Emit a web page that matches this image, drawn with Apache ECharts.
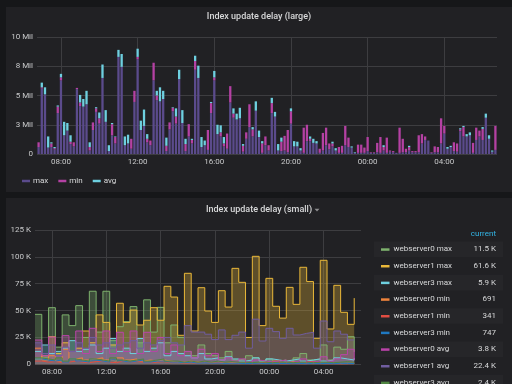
<!DOCTYPE html>
<html><head><meta charset="utf-8">
<script src="https://cdn.jsdelivr.net/npm/echarts@6/dist/echarts.min.js"></script>
<style>html,body{margin:0;padding:0;background:#161719;}#c{width:512px;height:384px;}</style>
</head><body><div id="c"></div>
<script>
// ---------- Top panel: Index update delay (large), values in Mil, 10-min bars from 06:50 ----------
const largeStartMin = 410, largeStepMin = 10;
const largeMax = [0.6,5.6,5.1,0.55,0.6,0.4,3.5,6.3,1.6,2.0,0.85,0.65,5.55,4.1,4.05,4.25,0.3,2.05,3.6,2.6,6.5,2.75,0.25,1.6,0.9,8.3,7.45,0.75,0.9,0.45,4.45,8.1,2.05,2.4,1.0,0.75,6.3,
4.6,4.5,4.7,0.25,2.1,3.65,2.6,6.4,2.65,0.25,1.5,0.9,7.2,6.5,0.6,0.75,0.35,3.5,6.3,1.7,1.5,0.65,0.45,4.4,3.1,2.95,3.05,0.2,1.3,2.3,1.5,3.7,1.45,0.1,0.75,0.3,
3.5,3.2,0.3,0.25,0.3,0.15,2.6,0.65,0.65,0.3,0.1,1.1,1.1,0.95,0.9,0.1,0.3,0.75,0.4,0.65,0.3,0.1,0.1,0.75,0.6,0.55,0.1,0.1,0.1,0.1,0.25,0.1,0.1,0.15,0.1,0.3,
0.1,0.2,0.15,0.1,0.1,0.15,0.15,0.3,0.15,0.15,0.15,0.9,1.2,1.15,0.1,0.15,0.15,0.9,1.75,0.45,0.6,0.25,0.2,1.95,1.5,1.5,1.6,0.1,1.2,1.5,1.2,3.1,1.3,0.2,0.35];
const largeMin = [0.4,0.1,0,0,0.3,0.1,0.55,0.25,0,0,0.2,0.35,0.1,0.3,0,0,0.3,0.65,0.3,0.45,0,0,0,0.95,0.55,0,0,0,0,0.85,0.95,0.2,0,0,0.3,0.4,1.5,
0.4,0,0,0.45,0.6,0.3,0.6,0,0,0.6,1.05,0.3,0.75,0,0,0,1.7,0.85,0.25,0,0.35,0.25,1.3,1.4,0.35,0,0,0.5,0.55,1.95,0.6,0,0,0.8,0.75,0.45,
0.85,0,0,0.8,1.25,1.9,1.05,0,0,0,2.15,1.4,0.2,0,0,0.35,1.5,1.5,0.5,0.25,0,0.5,0.6,1.65,0.8,0,0,0.7,0.7,0.45,1.2,0.05,0.05,0.8,1.35,0.3,
1.3,0.1,0.1,0,2.15,1.15,0.3,0.3,0.1,0.1,1.45,0.8,0.3,0,0.05,0.5,0.45,2.15,0.65,0,0,0.75,0.7,0.15,0.8,0,0,0.85,1.05,0.5,0.95,0,0,0,2.05];
const largeAvg = [0,0.4,0.6,0.95,0.1,0.1,0.1,0.3,1.15,0.65,0.55,0,0,0.65,0.65,1.15,0.4,0,0.1,0.5,1.15,1.0,0.5,0.1,0.05,0.6,1.1,0.75,0.75,0,0,0.7,0.8,1.4,0.4,0,0,
0.4,1.2,0.7,0.7,0,0.05,0.7,0.8,1.1,0.45,0,0.1,0.45,1.05,0.85,0.4,0,0.1,0.55,0.8,0.6,0.55,0,0,0.45,0.5,0.9,0.15,0,0,0.2,0.8,0.55,0.2,0,0,
0.45,0.4,0.55,0.35,0,0,0.25,0.45,0.4,0.2,0,0,0.2,0.35,0.2,0,0,0,0,0.15,0.2,0,0,0,0,0.1,0.05,0,0,0,0,0,0,0,0,0.15,
0,0,0,0,0,0,0,0.1,0,0,0,0,0,0,0,0,0,0,0,0.15,0.1,0,0,0.1,0.1,0.2,0.25,0,0,0,0.15,0.35,0.3,0.1,0];
const largeNames = ['max','min','avg'];
const largeColors = ['#5b4b8c','#b441a3','#6ed0e0'];

// ---------- Bottom panel: Index update delay (small), values in K, 30-min steps from 06:45 ----------
const smallStartMin = 405, smallStepMin = 30;
const ws0max = [46.5,6,52.7,16,46,36,54.6,25,68,30,68,22,35,39.7,53.7,20,60,30,53,20,36.6,25,12,8,18,10,8,6,12,4,5,8,6,3,5,3,4,2,6,10,4,5,18,4,16,14,25.7,11.5];
const ws1max = [5,8,25.7,10,20,12,15,31,20,46,39,18,56.8,39,50.5,36.6,41,52.7,41,72.6,62.6,27,84.7,31,71.3,49.6,39,68.5,53.3,89.3,76.3,25,100.5,36,80,54,43,71.6,55.8,90.3,77,24.2,96.8,32.9,73.5,48.4,37.2,61.6];
const ws3max = [12,18,10,12,15,22,12,14,18,10,15,24,12,15,10,24,12,15,20,8,12,10,8,6,10,5,6,4,7,5,3,4,6,3,5,4,3,4,5,3,4,5,3,4,6,5,4,5.9];
const ws0min = [15,4,8,3,14,5,6,4,5,6,4,3,6,4,5,3,4,3,4,3,2,2,3,2,2,1.5,2,1,1.5,1,1,0.8,1.2,1,0.8,1,0.9,2.5,0.8,1,0.7,0.9,0.8,1,0.7,0.8,0.9,0.691];
const ws1min = [3,2,2.5,1.5,2,3,2,1.5,2.5,3,2,1.5,3,2,2.5,2,1.5,2,2.5,1.5,2,1,1.5,1,2,1,1.5,0.8,1,0.6,0.8,0.5,1,2,0.6,3,0.5,0.8,0.6,0.5,2.5,0.7,0.5,0.6,0.4,0.5,0.6,0.341];
const ws3min = [5,4,3,4,2,5,3,2,4,3,2,4,3,2,3,4,2,3,3,2,2,1.5,2,1,1.5,1,1.2,0.8,1,0.9,0.7,0.8,1,0.6,0.9,0.8,0.7,1,0.8,0.6,0.9,0.7,0.8,0.6,0.9,0.8,0.7,0.747];
const ws0avg = [22.6,8,25.4,8,26.7,12,31,10,33.5,12,31,10,29.8,12,31,10,29.8,12,25,10,18,8,12,6,14,8,10,4,6,3,5,2,4,3,2,3,4,2,3,5,2,3,7,3,5,9,14,3.8];
const ws1avg = [20,10,18,8,16,12,20,15,25,18,20,15,18,20,22,15,20,18,22,25,20,18,36,30,30,28,23,32,23,27,30,15,42,21.7,33.5,30.4,24.2,33.5,27.3,28.8,29.8,15,40.3,21,31,28,22.7,22.4];
const ws3avg = [6,5,4,6,3,5,4,3,5,4,3,6,4,3,4,5,3,4,5,3,3,2,3,2,3,2,3,2,2.5,2,2,1.5,2,2,1.5,2,2,1.5,2,2,1.5,2,2,1.5,2,2.5,2,2.4];
const smallNames = ['webserver0 max','webserver1 max','webserver3 max','webserver0 min','webserver1 min','webserver3 min','webserver0 avg','webserver1 avg','webserver3 avg'];
const smallSeries = [ws0max, ws1max, ws3max, ws0min, ws1min, ws3min, ws0avg, ws1avg, ws3avg];
const smallColors = ['#7eb26d','#eab839','#6ed0e0','#ef843c','#e24d42','#1f78c1','#ba43a9','#705da0','#508642'];
const currentLabels = ['11.5 K','61.6 K','5.9 K','691','341','747','3.8 K','22.4 K','2.4 K'];

// ---------- axis ticks ----------
const tickMinutes = [480, 720, 960, 1200, 1440, 1680];
const tickLabels = ['08:00','12:00','16:00','20:00','00:00','04:00'];
const largeYTicks = {0:'0', 2.5:'3 Mil', 5:'5 Mil', 7.5:'8 Mil', 10:'10 Mil'};
const smallYTicks = {0:'0', 25:'25 K', 50:'50 K', 75:'75 K', 100:'100 K', 125:'125 K'};

const FONT = 'Roboto';
const gridColor = '#3d3d40';
const labelColor = '#c9cacb';
const textColor = '#d8d9da';

const chart = echarts.init(document.getElementById('c'), null, {renderer:'canvas', width:512, height:384});

function fmtMin(m){ m = m % 1440; const h = Math.floor(m/60), mm = m % 60; return (h<10?'0':'')+h+':'+(mm<10?'0':'')+mm; }
const largeCats = largeMax.map((_, i) => fmtMin(largeStartMin + largeStepMin*i));

function timeAxisCfg(gi){
  return {
    type:'value', gridIndex:gi, min:405, max:1845,
    axisLine:{show:false},
    axisTick:{show:false, customValues: tickMinutes},
    axisLabel:{customValues: tickMinutes, color:labelColor, fontSize:8, fontFamily:FONT, margin:4,
      formatter: v => tickLabels[tickMinutes.indexOf(v)] || ''},
    splitLine:{show:true, lineStyle:{color:gridColor, width:1}}
  };
}

const series = [];
[largeMax, largeMin, largeAvg].forEach((arr, si) => {
  series.push({
    name:largeNames[si], type:'bar', xAxisIndex:2, yAxisIndex:0, stack:'large', barWidth:2.3,
    itemStyle:{color:largeColors[si]},
    data: arr,
    animation:false
  });
});
smallSeries.forEach((arr, si) => {
  series.push({
    name:smallNames[si], type:'line', xAxisIndex:1, yAxisIndex:1, step:'end',
    showSymbol:false, symbol:'none',
    lineStyle:{color:smallColors[si], width:1},
    itemStyle:{color:smallColors[si]},
    areaStyle:{color:smallColors[si], opacity:0.3},
    data: arr.map((v, i) => [smallStartMin + smallStepMin*i, v]),
    animation:false
  });
});

// graphic: panels, titles, legend table
const g = [
  {type:'rect', shape:{x:6,y:7,width:506,height:185}, style:{fill:'#212124'}, z:-10},
  {type:'rect', shape:{x:6,y:198,width:506,height:186}, style:{fill:'#212124'}, z:-10},
  {type:'text', x:259, y:17, z:10, style:{text:'Index update delay (large)', fill:textColor, font:'500 9px '+FONT, align:'center', verticalAlign:'middle'}},
  {type:'text', x:259, y:210, z:10, style:{text:'Index update delay (small)', fill:textColor, font:'500 9px '+FONT, align:'center', verticalAlign:'middle'}},
  {type:'polygon', z:10, shape:{points:[[314.5,208.8],[319.5,208.8],[317,211.5]]}, style:{fill:'#8e8e90'}},
  {type:'text', x:496, y:234, z:10, style:{text:'current', fill:'#33b5e5', font:'8px '+FONT, align:'right', verticalAlign:'middle'}}
];
smallNames.forEach((n, i) => {
  const cy = 249.3 + 16.67*i;
  if (i % 2 === 0) g.push({type:'rect', z:-5, shape:{x:374,y:cy-7.8,width:129,height:15.6}, style:{fill:'#262629'}});
  g.push({type:'rect', z:10, shape:{x:381,y:cy-1,width:8.5,height:2.5}, style:{fill:smallColors[i]}});
  g.push({type:'text', x:393.5, y:cy, z:10, style:{text:n, fill:textColor, font:'8px '+FONT, align:'left', verticalAlign:'middle'}});
  g.push({type:'text', x:496, y:cy, z:10, style:{text:currentLabels[i], fill:textColor, font:'8px '+FONT, align:'right', verticalAlign:'middle'}});
});

chart.setOption({
  backgroundColor:'#161719',
  animation:false,
  textStyle:{fontFamily:FONT},
  grid:[
    {left:37, top:37, width:460, height:117, containLabel:false},
    {left:35, top:230, width:326, height:134.3, containLabel:false}
  ],
  xAxis:[
    timeAxisCfg(0),
    timeAxisCfg(1),
    {type:'category', gridIndex:0, data:largeCats, boundaryGap:true, show:false,
      axisLine:{show:false}, axisTick:{show:false}, axisLabel:{show:false}, splitLine:{show:false}}
  ],
  yAxis:[
    {type:'value', gridIndex:0, min:0, max:10, interval:2.5,
      axisLine:{show:false}, axisTick:{show:false},
      axisLabel:{color:labelColor, fontSize:8, fontFamily:FONT, margin:4, formatter: v => largeYTicks[v] ?? ''},
      splitLine:{lineStyle:{color:gridColor}}},
    {type:'value', gridIndex:1, min:0, max:125, interval:25,
      axisLine:{show:false}, axisTick:{show:false},
      axisLabel:{color:labelColor, fontSize:8, fontFamily:FONT, margin:4, formatter: v => smallYTicks[v] ?? ''},
      splitLine:{lineStyle:{color:gridColor}}}
  ],
  legend:[{
    data:largeNames, left:17, top:172, orient:'horizontal',
    icon:'rect', itemWidth:8, itemHeight:2.5, itemGap:10,
    textStyle:{color:textColor, fontSize:8, fontFamily:FONT, padding:[0,0,0,-2]}
  }],
  graphic:g,
  series:series
});
</script></body></html>
